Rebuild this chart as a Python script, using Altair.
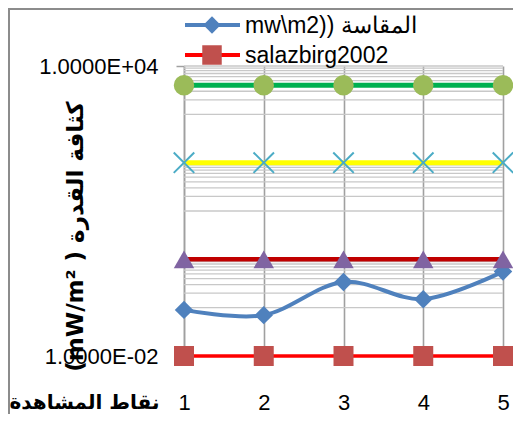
import altair as alt
import pandas as pd

# ---- data ----
points = [1, 2, 3, 4, 5]
measured = [0.09, 0.07, 0.34, 0.15, 0.56]          # المقاسة ((mw\m2
salazbirg2002 = [0.01, 0.01, 0.01, 0.01, 0.01]
limit_purple = [1, 1, 1, 1, 1]
limit_cyan = [100, 100, 100, 100, 100]
limit_green = [4000, 4000, 4000, 4000, 4000]

y_tick_values = [0.01, 10000]
y_tick_labels = ["1.0000E-02", "1.0000E+04"]
grid_values = [0.01,
               0.1, 0.2, 0.3, 0.4, 0.5, 0.6, 0.7, 0.8, 0.9, 1,
               10, 20, 30, 40, 50, 60, 70, 80, 90, 100,
               1000, 2000, 3000, 4000, 5000, 6000, 7000, 8000, 9000, 10000]

legend_names = ["mw\\m2)) المقاسة", "salazbirg2002"]
x_title = "نقاط المشاهدة"
y_title = "(mW/m²\u200e )\u200e كثافة القدرة"

LAT = "Liberation Sans"
AR = "DejaVu Sans"

xs = alt.Scale(domain=[1, 5], nice=False, zero=False)
ys = alt.Scale(type="log", domain=[0.01, 10000], nice=False)

label_expr = " : ".join(
    f"datum.value < {v * 1.5} ? '{l}'" for v, l in zip(y_tick_values, y_tick_labels)
) + " : ''"

y_axis = alt.Axis(
    values=y_tick_values, labelExpr=label_expr, grid=False, labelFlush=False,
    domainColor="#a0a0a0", domainWidth=1.5, tickColor="#a0a0a0",
    tickSize=8, tickWidth=1.5, labelPadding=18, labelFont=LAT,
    labelFontSize=22, labelColor="#000000",
    title=y_title, titleFont=AR, titleFontSize=23, titleFontWeight="bold",
    titleAngle=270, titleX=-109, titleY=170, titleAlign="center",
    titleBaseline="middle", titleColor="#000000")

x_axis = alt.Axis(
    values=points, grid=True, gridColor="#a0a0a0", gridWidth=1.6, labelFlush=False,
    domain=False, ticks=False, tickSize=0, labelPadding=36,
    labelFont=LAT, labelFontSize=22, labelColor="#000000", format="d",
    title=x_title, titleFont=AR, titleFontSize=20, titleFontWeight="bold",
    titleX=-100, titleY=46, titleAlign="center", titleBaseline="middle",
    titleColor="#000000")


def X(field):
    return alt.X(field, scale=xs, axis=x_axis)


def Y(field):
    return alt.Y(field, scale=ys, axis=y_axis)


# horizontal gridlines (major + minor of the log axis)
grid = alt.Chart(pd.DataFrame({"g": grid_values})).mark_rule(
    color="#c8c8c8", strokeWidth=1.3
).encode(y=Y("g:Q"))

# x axis carrier (vertical grid)
xgrid = alt.Chart(pd.DataFrame({"x": points, "y": [1] * 5})).mark_point(opacity=0).encode(
    x=X("x:Q"), y=Y("y:Q"))


def series(vals, line_color, line_w, shape, mcolor, size, interp="linear", filled=True, mstroke=None):
    df = pd.DataFrame({"x": points, "y": vals})
    base = alt.Chart(df).encode(x=X("x:Q"), y=Y("y:Q"))
    line = base.mark_line(color=line_color, strokeWidth=line_w, interpolate=interp)
    if filled:
        pts = base.mark_point(shape=shape, filled=True, color=mcolor, size=size, opacity=1)
    else:
        pts = base.mark_point(shape=shape, filled=False, color=mcolor, size=size,
                              strokeWidth=mstroke, opacity=1)
    return line + pts


s_blue = series(measured, "#4f81bd", 4, "diamond", "#4f81bd", 340, interp="cardinal")
s_red = series(salazbirg2002, "#ff0000", 3.5, "square", "#c0504d", 400)
s_purple = series(limit_purple, "#c00000", 4.5, "triangle-up", "#8064a2", 420)
s_cyan = series(limit_cyan, "#ffff00", 5, "M-1,-1L1,1M-1,1L1,-1", "#4bacc6", 420,
                filled=False, mstroke=2)
s_green = series(limit_green, "#00b050", 5, "circle", "#9bbb59", 420)

one = pd.DataFrame({"a": [0]})


def legend_entry(yv, line_color, shape, mcolor, size, text):
    ln = alt.Chart(one).mark_rule(color=line_color, strokeWidth=4).encode(
        x=alt.value(1), x2=alt.value(56), y=alt.value(yv))
    mk = alt.Chart(one).mark_point(shape=shape, filled=True, color=mcolor, size=size,
                                   opacity=1).encode(x=alt.value(28), y=alt.value(yv))
    tx = alt.Chart(one).mark_text(align="left", baseline="middle", font=LAT,
                                  fontSize=23, color="#000000", text=text).encode(
        x=alt.value(61), y=alt.value(yv + 1))
    return ln + mk + tx


leg1 = legend_entry(-41, "#4f81bd", "diamond", "#4f81bd", 300, legend_names[0])
leg2 = legend_entry(-11, "#ff0000", "square", "#c0504d", 380, legend_names[1])

border_left = alt.Chart(one).mark_rect(color="#8c8c8c").encode(
    x=alt.value(-176), x2=alt.value(-174), y=alt.value(-58), y2=alt.value(360))
border_top = alt.Chart(one).mark_rect(color="#8c8c8c").encode(
    x=alt.value(-176), x2=alt.value(340), y=alt.value(-58), y2=alt.value(-56))

chart = alt.layer(
    border_left, border_top, grid, xgrid,
    s_blue, s_red, s_purple, s_cyan, s_green, leg1, leg2,
).properties(
    width=319, height=290,
    autosize=alt.AutoSizeParams(type="none"),
    padding={"left": 176, "top": 58, "right": 10, "bottom": 58},
).configure_view(strokeWidth=0)

chart.save("out.html", embed_options={"renderer": "svg", "actions": False})
